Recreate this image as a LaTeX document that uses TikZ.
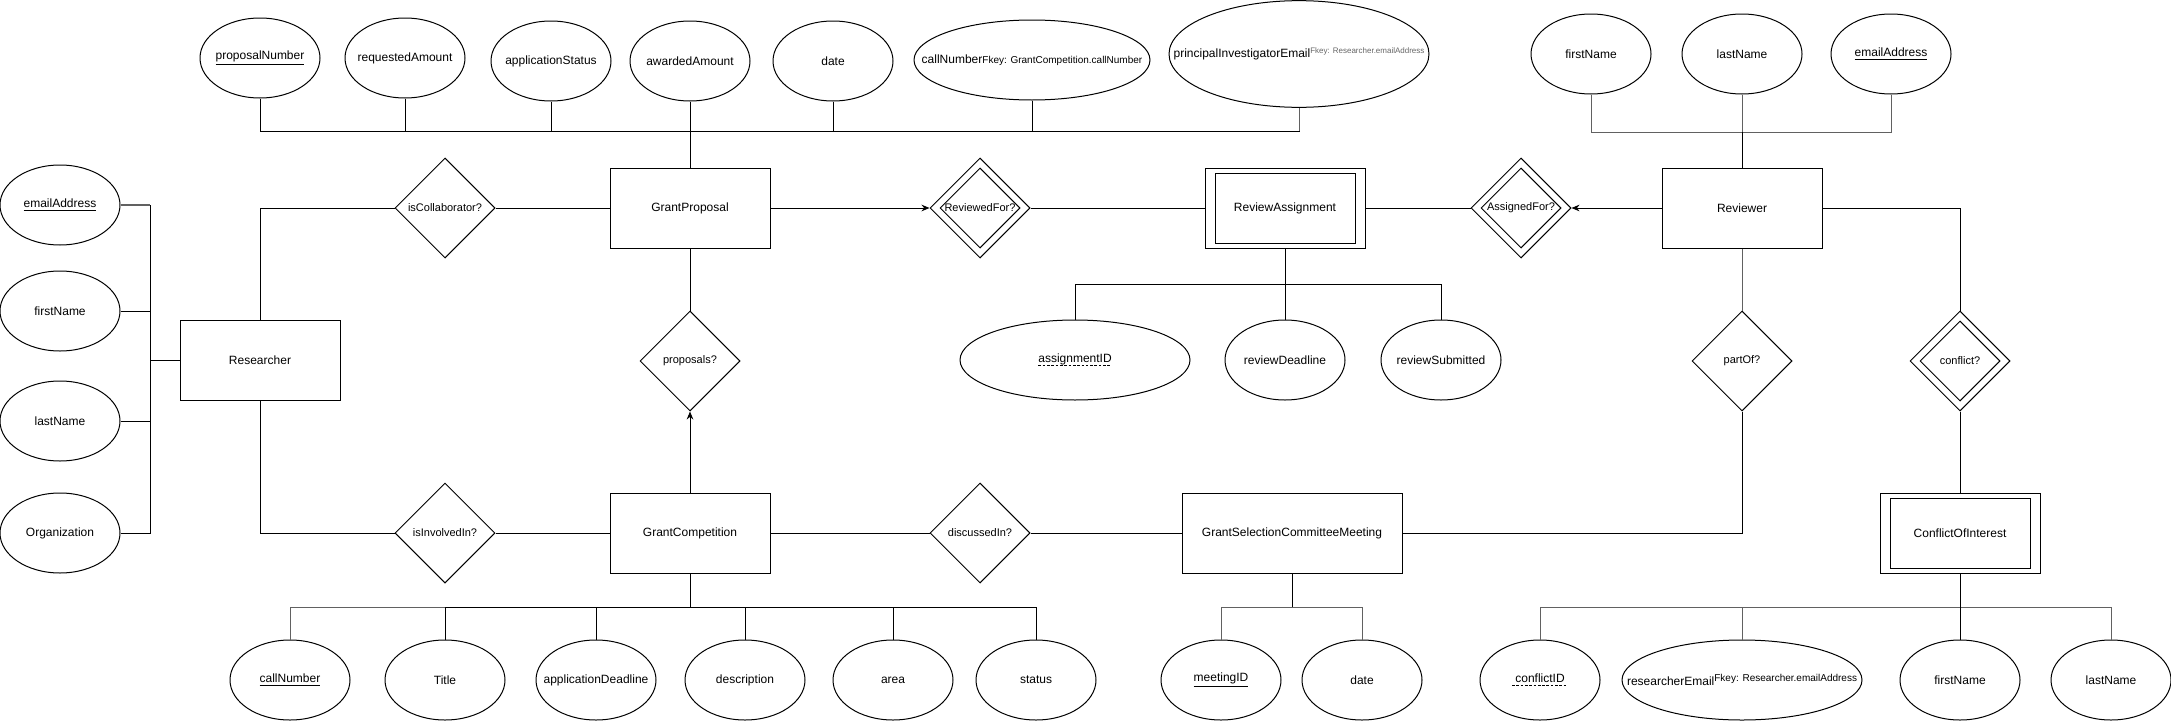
\documentclass[tikz,border=0pt]{standalone}
\usepackage{fontspec}
\setmainfont{Liberation Sans}
\usetikzlibrary{arrows.meta,shapes.geometric}

\tikzset{
  entity/.style={draw,rectangle,inner sep=0pt,minimum width=120bp,minimum height=60bp,font=\fontsize{9bp}{11bp}\selectfont},
  attrib/.style={draw,ellipse,inner sep=0pt,minimum width=90bp,minimum height=60bp,font=\fontsize{9bp}{11bp}\selectfont},
  rel/.style={draw,diamond,aspect=1,inner sep=0pt,minimum width=75bp,minimum height=75bp,font=\fontsize{8.25bp}{10bp}\selectfont},
  relin/.style={draw,diamond,aspect=1,inner sep=0pt,minimum width=60bp,minimum height=60bp},
  link/.style={line width=0.75bp},
  graylink/.style={line width=0.75bp,draw=black!62},
  arrowlink/.style={-{Stealth[length=6bp,width=5bp]}}
}
\newcommand{\zw}[1]{\makebox[0pt]{#1}}
\newsavebox{\ulbox}
\newcommand{\dashul}[1]{\sbox{\ulbox}{#1}\rlap{\usebox{\ulbox}}\hbox to \wd\ulbox{\xleaders\hbox{\rule[-2.2bp]{2bp}{0.6bp}\hspace{1.2bp}}\hfil}}

\begin{document}
\begin{tikzpicture}[line width=0.75bp]
\useasboundingbox (0bp,0bp) rectangle (1628.25bp,-540.75bp);

% GrantProposal
\node (GP) at (517.5bp,-156bp)[entity] {GrantProposal};
\node (pNum) at (195bp,-43.5bp)[attrib] {\zw{\underline{proposalNumber}}};
\node (reqAmt) at (303.75bp,-43.5bp)[attrib] {\zw{requestedAmount}};
\node (appStatus) at (413.25bp,-45.75bp)[attrib] {\zw{applicationStatus}};
\node (awdAmt) at (517.5bp,-45.75bp)[attrib] {\zw{awardedAmount}};
\node (gpDate) at (624.75bp,-45.75bp)[attrib] {\zw{date}};
\node (callFk) at (774bp,-45bp)[attrib,minimum width=177bp] {\zw{callNumber{\fontsize{7.5bp}{9bp}\selectfont Fkey: GrantCompetition.callNumber}}};
\node (piEmail) at (974.25bp,-40.5bp)[attrib,minimum width=195bp,minimum height=80bp] {\zw{principalInvestigatorEmail\raisebox{3.5bp}{\color{black!60}\fontsize{6bp}{7bp}\selectfont Fkey: Researcher.emailAddress}}};
\coordinate (gpj) at (517.5bp,-98.25bp);
\draw[graylink] (piEmail.south) |- (gpj);
\draw[link] (pNum.south) |- (gpj);
\draw[link] (reqAmt.south) |- (gpj);
\draw[link] (appStatus.south) |- (gpj);
\draw[link] (awdAmt.south) |- (gpj);
\draw[link] (gpDate.south) |- (gpj);
\draw[link] (callFk.south) |- (gpj);
\draw[link] ([xshift=-0.4bp]callFk.south |- gpj) -- ([xshift=0.4bp]piEmail.south |- gpj);
\draw[link] (gpj) -- (GP.north);

% Researcher
\node (R) at (195bp,-270bp)[entity] {Researcher};
\node (rsEmail) at (45bp,-153.75bp)[attrib] {\zw{\underline{emailAddress}}};
\node (rsFirst) at (45bp,-233.25bp)[attrib] {\zw{firstName}};
\node (rsLast) at (45bp,-315.75bp)[attrib] {\zw{lastName}};
\node (rsOrg) at (45bp,-399.75bp)[attrib] {\zw{Organization}};
\coordinate (rj) at (112.5bp,-270bp);
\draw[graylink,line width=1.5bp] (rsEmail.east) -- (rsEmail.east -| rj);
\draw[link] (rsEmail.east -| rj) -- (rj);
\draw[link] (rsFirst.east) -| (rj);
\draw[link] (rsLast.east) -| (rj);
\draw[link] (rsOrg.east) -| (rj);
\draw[link] (rj) -- (R.west);

% relationships on the left
\node (isCollab) at (333.75bp,-156bp)[rel] {isCollaborator?};
\node (isInv) at (333.75bp,-399.75bp)[rel] {isInvolvedIn?};
\node (GC) at (517.5bp,-399.75bp)[entity] {GrantCompetition};
\node (props) at (517.5bp,-270.75bp)[rel] {proposals?};
\draw[link] (R.north) |- (isCollab.west);
\draw[link] (isCollab.east) -- (GP.west);
\draw[link] (R.south) |- (isInv.west);
\draw[link] (isInv.east) -- (GC.west);
\draw[link] (GP.south) -- (props.north);
\draw[link,arrowlink] (GC.north) -- (props.south);

% GrantCompetition attributes
\node (callNum) at (217.5bp,-510bp)[attrib] {\zw{\underline{callNumber}}};
\node (title) at (333.75bp,-510bp)[attrib] {\zw{Title}};
\node (appDl) at (447bp,-510bp)[attrib] {\zw{applicationDeadline}};
\node (descr) at (558.75bp,-510bp)[attrib] {\zw{description}};
\node (area) at (669.75bp,-510bp)[attrib] {\zw{area}};
\node (status) at (777bp,-510bp)[attrib] {\zw{status}};
\coordinate (gcj) at (517.5bp,-455.25bp);
\draw[graylink] (callNum.north) |- (gcj);
\draw[link] (title.north) |- (gcj);
\draw[link] (appDl.north) |- (gcj);
\draw[link] (descr.north) |- (gcj);
\draw[link] (area.north) |- (gcj);
\draw[link] (status.north) |- (gcj);
\draw[link] (gcj) -- (GC.south);

% GrantSelectionCommitteeMeeting
\node (discIn) at (735bp,-399.75bp)[rel] {discussedIn?};
\node (GSCM) at (969bp,-399.75bp)[entity,minimum width=165bp] {GrantSelectionCommitteeMeeting};
\node (meetID) at (915.75bp,-510bp)[attrib] {\zw{\underline{meetingID}}};
\node (gsDate) at (1021.5bp,-510bp)[attrib] {\zw{date}};
\coordinate (gsj) at (969bp,-455.25bp);
\draw[link] (GC.east) -- (discIn.west);
\draw[link] (discIn.east) -- (GSCM.west);
\draw[graylink] (meetID.north) |- (gsj);
\draw[graylink] (gsDate.north) |- (gsj);
\draw[link] (gsj) -- (GSCM.south);

% ReviewAssignment
\node (revFor) at (735bp,-156bp)[rel] {ReviewedFor?};
\node (revForIn) at (735bp,-156bp)[relin] {};
\node (RA) at (963.75bp,-156bp)[entity] {};
\node (RAin) at (963.75bp,-156bp)[entity,minimum width=105bp,minimum height=52.5bp] {ReviewAssignment};
\node (aID) at (806.25bp,-270bp)[attrib,minimum width=172.5bp] {\zw{\dashul{assignmentID}}};
\node (revDl) at (963.75bp,-270bp)[attrib] {\zw{reviewDeadline}};
\node (revSub) at (1080.75bp,-270bp)[attrib] {\zw{reviewSubmitted}};
\coordinate (raj) at (963.75bp,-213bp);
\draw[link,arrowlink] (GP.east) -- (revFor.west);
\draw[link] (revFor.east) -- (RA.west);
\draw[link] (aID.north) |- (raj);
\draw[link] (revDl.north) |- (raj);
\draw[link] (revSub.north) |- (raj);
\draw[link] (raj) -- (RA.south);

% Reviewer
\node (asgFor) at (1140.75bp,-156bp)[rel] {AssignedFor?};
\node (asgForIn) at (1140.75bp,-156bp)[relin] {};
\node (Rev) at (1306.5bp,-156bp)[entity] {Reviewer};
\node (rvFirst) at (1193.25bp,-40.5bp)[attrib] {\zw{firstName}};
\node (rvLast) at (1306.5bp,-40.5bp)[attrib] {\zw{lastName}};
\node (rvEmail) at (1418.25bp,-40.5bp)[attrib] {\zw{\underline{emailAddress}}};
\coordinate (rvj) at (1306.5bp,-99bp);
\draw[link] (RA.east) -- (asgFor.west);
\draw[link,arrowlink] (Rev.west) -- (asgFor.east);
\draw[graylink] (rvFirst.south) |- (rvj);
\draw[graylink] (rvLast.south) |- (rvj);
\draw[graylink] (rvEmail.south) |- (rvj);
\draw[link] (rvj) -- (Rev.north);

% partOf and ConflictOfInterest
\node (partOf) at (1306.5bp,-270.75bp)[rel] {partOf?};
\node (conflict) at (1470bp,-270.75bp)[rel] {conflict?};
\node (conflictIn) at (1470bp,-270.75bp)[relin] {};
\node (COI) at (1470bp,-399.75bp)[entity] {};
\node (COIin) at (1470bp,-399.75bp)[entity,minimum width=105bp,minimum height=52.5bp] {ConflictOfInterest};
\draw[graylink] (Rev.south) -- (partOf.north);
\draw[link] (partOf.south) |- (GSCM.east);
\draw[link] (Rev.east) -| (conflict.north);
\draw[link] (conflict.south) -- (COI.north);

% ConflictOfInterest attributes
\node (cfID) at (1155bp,-510bp)[attrib] {\zw{\dashul{\ conflictID\ }}};
\node (cfEmail) at (1306.5bp,-510bp)[attrib,minimum width=180bp] {\zw{researcherEmail\raisebox{3.5bp}{\fontsize{7.5bp}{9bp}\selectfont Fkey: Researcher.emailAddress}}};
\node (cfFirst) at (1470bp,-510bp)[attrib] {\zw{firstName}};
\node (cfLast) at (1583.25bp,-510bp)[attrib] {\zw{lastName}};
\coordinate (coij) at (1470bp,-455.25bp);
\draw[graylink] (cfID.north) |- (coij);
\draw[graylink] (cfEmail.north) |- (coij);
\draw[graylink] (cfLast.north) |- (coij);
\draw[link] (cfFirst.north) |- (coij);
\draw[link] (coij) -- (COI.south);
\end{tikzpicture}
\end{document}
